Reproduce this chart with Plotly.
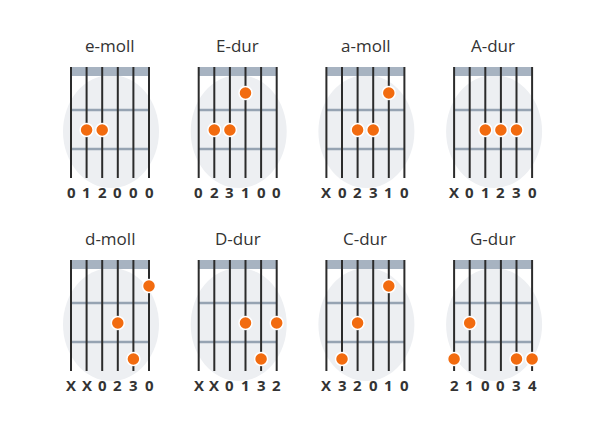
import plotly.graph_objects as go

# chord names, labels under strings, dots as (string 1..6, fret)
chords = ["e-moll", "E-dur", "a-moll", "A-dur", "d-moll", "D-dur", "C-dur", "G-dur"]
labels = [
    "012000", "023100", "X02310", "X01230",
    "XX0230", "XX0132", "X32010", "210034",
]
dots = [
    [(2, 2), (3, 2)],
    [(2, 2), (3, 2), (4, 1)],
    [(3, 2), (4, 2), (5, 1)],
    [(3, 2), (4, 2), (5, 2)],
    [(6, 1), (4, 2), (5, 3)],
    [(4, 2), (6, 2), (5, 3)],
    [(5, 1), (3, 2), (2, 3)],
    [(2, 2), (1, 3), (5, 3), (6, 3)],
]

OFF = 8  # page body margin
X0, DX, COL = 71 - OFF, 15.6, 127.7
ROW = 193
NUT_TOP, NUT_BOT, F1, F2, BOT, LAB, TITLE = [v - OFF for v in (67, 76, 110, 149, 178, 192, 45)]
FRET_Y = {1: 93 - OFF, 2: 130 - OFF, 3: 166 - OFF}

fig = go.Figure()
shapes = []
annotations = []
for i, name in enumerate(chords):
    r, c = divmod(i, 4)
    x0 = X0 + c * COL
    dy = r * ROW
    xs = [x0 + k * DX for k in range(6)]
    # background blob
    shapes.append(dict(type="circle", x0=x0 - 8, x1=xs[-1] + 10, y0=NUT_TOP + dy + 8,
                       y1=BOT + dy + 10, fillcolor="#edeff2", line_width=0, layer="below"))
    shapes.append(dict(type="rect", x0=xs[0], x1=xs[-1], y0=NUT_TOP + dy, y1=NUT_BOT + dy,
                       fillcolor="#a7b3c1", line_width=0, layer="below"))
    for fy in (F1, F2):
        shapes.append(dict(type="line", x0=xs[0], x1=xs[-1], y0=fy + dy, y1=fy + dy,
                           line=dict(color="#96a3b2", width=2.5), layer="below"))
    for x in xs:
        shapes.append(dict(type="line", x0=x, x1=x, y0=NUT_TOP + dy, y1=BOT + dy,
                           line=dict(color="#2b2b2b", width=2), layer="below"))
    annotations.append(dict(x=(xs[0] + xs[-1]) / 2, y=TITLE + dy, text=name, showarrow=False,
                            font=dict(size=17, color="#333", family="Open Sans")))
    for k, ch in enumerate(labels[i]):
        annotations.append(dict(x=xs[k], y=LAB + dy, text="<b>%s</b>" % ch, showarrow=False,
                                font=dict(size=15, color="#333", family="Open Sans")))
    fig.add_trace(go.Scatter(
        x=[xs[s - 1] for s, f in dots[i]],
        y=[FRET_Y[f] + dy for s, f in dots[i]],
        mode="markers",
        marker=dict(size=13, color="#f26b0f", line=dict(color="white", width=1.5)),
        hoverinfo="skip",
    ))

fig.update_layout(
    width=600, height=432, margin=dict(l=0, r=0, t=0, b=0),
    plot_bgcolor="white", paper_bgcolor="white", showlegend=False,
    shapes=shapes, annotations=annotations,
    xaxis=dict(range=[0, 600], visible=False),
    yaxis=dict(range=[432, 0], visible=False),
)
fig.write_html("out.html")
